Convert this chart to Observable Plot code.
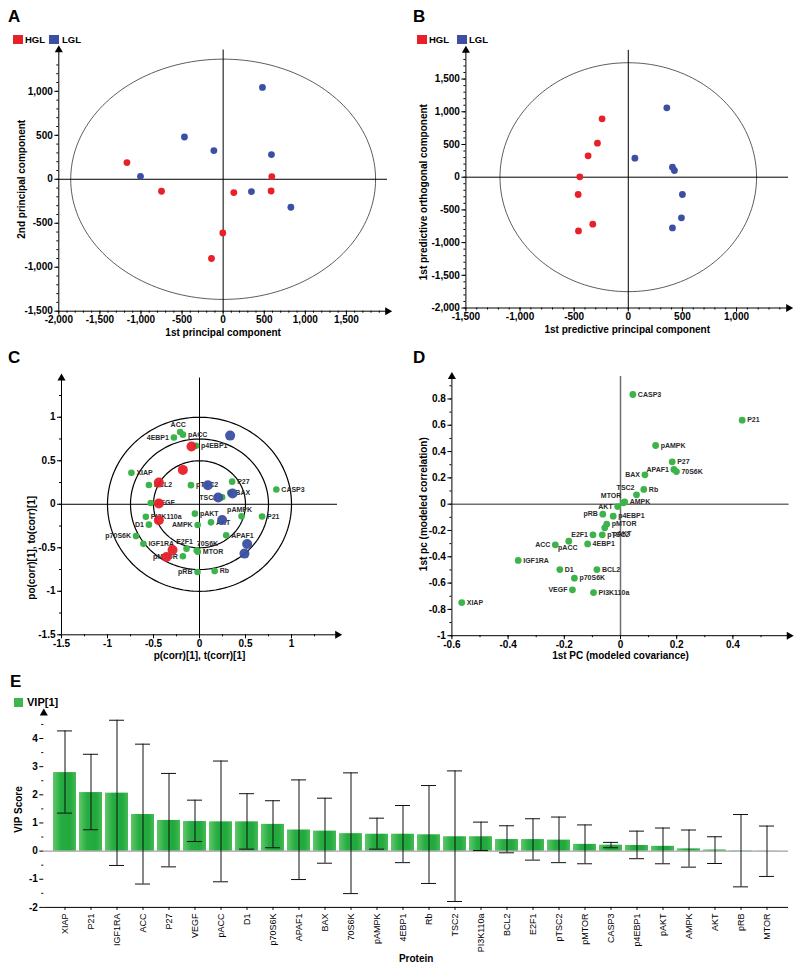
<!DOCTYPE html>
<html><head><meta charset="utf-8">
<script src="https://cdn.jsdelivr.net/npm/d3@7"></script>
<script src="https://cdn.jsdelivr.net/npm/@observablehq/plot@0.6"></script>
<style>
html,body{margin:0;padding:0;background:#fff;}
#root{position:relative;width:800px;height:971px;overflow:hidden;font-family:"Liberation Sans",Arial,Helvetica,sans-serif;color:#000;}
.t{position:absolute;white-space:nowrap;line-height:1;font-weight:bold;}
.sw{position:absolute;}
</style></head>
<body><div id="root"></div>
<script>
// ---------------- DATA ----------------
// Panel A: PCA scores
const pcaHGL_t1 = [-1171, -750, 130, 592, 584, -4, -142];
const pcaHGL_t2 = [190, -136, -151, 31, -133, -610, -901];
const pcaLGL_t1 = [478, -471, -113, 588, -1006, 344, 824];
const pcaLGL_t2 = [1045, 481, 326, 281, 34, -140, -318];
const ellipseA = [1855, 1366];              // Hotelling T2 radii (x, y)
const domainA_x = [-2000, 2000];
const domainA_y = [-1500, 1470];
const ticksA_x = [-2000, -1500, -1000, -500, 0, 500, 1000, 1500];
const ticksA_y = [-1500, -1000, -500, 0, 500, 1000];

// Panel B: OPLS-DA scores
const oplsHGL_tp = [-242, -285, -371, -448, -463, -328, -460];
const oplsHGL_to = [893, 520, 327, 5, -265, -719, -821];
const oplsLGL_tp = [356, 61, 408, 426, 500, 491, 408];
const oplsLGL_to = [1061, 291, 153, 102, -265, -622, -776];
const ellipseB = [1185, 1750];
const domainB_x = [-1500, 1480];
const domainB_y = [-2000, 1940];
const ticksB_x = [-1500, -1000, -500, 0, 500, 1000];
const ticksB_y = [-2000, -1500, -1000, -500, 0, 500, 1000, 1500];

// Proteins (VIP order)
const proteins = ["XIAP","P21","IGF1RA","ACC","P27","VEGF","pACC","D1","p70S6K","APAF1","BAX","70S6K","pAMPK","4EBP1","Rb","TSC2","PI3K110a","BCL2","E2F1","pTSC2","pMTOR","CASP3","p4EBP1","pAKT","AMPK","AKT","pRB","MTOR"];

// Panel C: correlation-scaled loadings + scores
const pcorrC  = [-0.74, 0.68, -0.61, -0.21, 0.355, -0.53, -0.18, -0.55, -0.69, 0.29, 0.335, -0.03, 0.457, -0.278, 0.165, 0.246, -0.583, -0.55, -0.141, -0.093, -0.181, 0.835, -0.038, -0.05, -0.02, 0.125, -0.022, -0.018];
const pocorrC = [0.362, -0.141, -0.455, 0.83, 0.26, 0.015, 0.80, -0.234, -0.366, -0.357, 0.132, -0.53, -0.139, 0.768, -0.768, 0.08, -0.144, 0.222, -0.51, 0.22, -0.598, 0.17, 0.673, -0.108, -0.238, -0.208, -0.778, -0.545];
const tcorrHGL  = [-0.087, -0.181, -0.442, -0.442, -0.442, -0.293, -0.359];
const tocorrHGL = [0.663, 0.395, 0.249, 0.008, -0.184, -0.525, -0.605];
const tcorrLGL  = [0.333, 0.091, 0.203, 0.359, 0.246, 0.518, 0.489];
const tocorrLGL = [0.789, 0.218, 0.077, 0.123, -0.18, -0.456, -0.567];
const circlesC = [1, 0.75, 0.5];
const domainC_x = [-1.5, 1.5];
const domainC_y = [-1.5, 1.45];
const ticksC = [-1.5, -1, -0.5, 0, 0.5, 1];

// Panel D: S-plot
const covD  = [-0.565, 0.433, -0.364, -0.232, 0.184, -0.171, -0.184, -0.216, -0.164, 0.19, 0.087, 0.199, 0.125, -0.117, 0.083, 0.057, -0.096, -0.084, -0.098, -0.065, -0.049, 0.044, -0.026, -0.056, 0.015, -0.010, -0.063, 0.010];
const corrD = [-0.748, 0.639, -0.428, -0.309, 0.322, -0.651, -0.281, -0.497, -0.563, 0.264, 0.223, 0.248, 0.446, -0.302, 0.112, 0.071, -0.672, -0.497, -0.233, -0.233, -0.152, 0.834, -0.091, -0.18, 0.017, -0.018, -0.076, 0.010];
const domainD_x = [-0.6, 0.6];
const domainD_y = [-1, 0.97];
const ticksD_x = [-0.6, -0.4, -0.2, 0, 0.2, 0.4];
const ticksD_y = [-1, -0.8, -0.6, -0.4, -0.2, 0, 0.2, 0.4, 0.6, 0.8];

// Panel E: VIP scores with confidence intervals
const vipE   = [2.79, 2.08, 2.06, 1.30, 1.09, 1.05, 1.04, 1.04, 0.95, 0.75, 0.71, 0.62, 0.60, 0.60, 0.58, 0.51, 0.51, 0.41, 0.41, 0.39, 0.24, 0.21, 0.20, 0.17, 0.08, 0.04, 0.01, 0.005];
const vipHiE = [4.27, 3.44, 4.65, 3.80, 2.76, 1.81, 3.20, 2.04, 1.79, 2.53, 1.88, 2.78, 1.17, 1.62, 2.33, 2.85, 1.03, 0.90, 1.15, 1.21, 0.93, 0.31, 0.71, 0.82, 0.75, 0.51, 1.30, 0.89];
const vipLoE = [1.35, 0.76, -0.51, -1.17, -0.56, 0.34, -1.09, 0.07, 0.12, -1.01, -0.43, -1.51, 0.07, -0.41, -1.15, -1.79, 0.02, -0.06, -0.32, -0.41, -0.45, 0.12, -0.27, -0.45, -0.57, -0.44, -1.27, -0.90];
const domainE_y = [-2, 4.9];
const ticksE_y = [-2, -1, 0, 1, 2, 3, 4];
const minorE_y = [-1.5, -0.5, 0.5, 1.5, 2.5, 3.5, 4.5];

// ---------------- STYLE ----------------
const FONT = '"Liberation Sans", Arial, Helvetica, sans-serif';
const RED = "#e8202a", BLUE = "#3b4fa3", GREEN = "#3cb44b";
const labelSideC = {XIAP:"r",P21:"r",IGF1RA:"r",ACC:"t",P27:"r",VEGF:"r",pACC:"r",D1:"l",p70S6K:"l",APAF1:"r",BAX:"r","70S6K":"tr",pAMPK:"t","4EBP1":"l",Rb:"r",TSC2:"l",PI3K110a:"r",BCL2:"r",E2F1:"t",pTSC2:"r",pMTOR:"l",CASP3:"r",p4EBP1:"r",pAKT:"r",AMPK:"l",AKT:"r",pRB:"l",MTOR:"r"};
const labelSideD = {XIAP:"r",P21:"r",IGF1RA:"r",ACC:"l",P27:"r",VEGF:"l",pACC:"b",D1:"r",p70S6K:"r",APAF1:"l",BAX:"l","70S6K":"r",pAMPK:"r","4EBP1":"r",Rb:"r",TSC2:"tl",PI3K110a:"r",BCL2:"r",E2F1:"l",pTSC2:"r",pMTOR:"r",CASP3:"r",p4EBP1:"r",pAKT:"rd",AMPK:"r",AKT:"l",pRB:"l",MTOR:"tl"};
const LABEL_OFFSETS = {
  r:  {anchor:"start",  dx: 5,  dy: 0},
  l:  {anchor:"end",    dx: -5, dy: 0},
  t:  {anchor:"middle", dx: -2, dy: -7},
  b:  {anchor:"middle", dx: -1, dy: 7},
  tr: {anchor:"start",  dx: 0,  dy: -7},
  tl: {anchor:"end",    dx: -2, dy: -7},
  rd: {anchor:"start",  dx: 8,  dy: 6}
};

// ---------------- HELPERS ----------------
const root = document.getElementById("root");
const fmtComma = d => d.toLocaleString("en-US");
const fmtPlain = d => String(d);
const noText = () => "";
function mount(el, left, top) {
  el.style.position = "absolute"; el.style.left = left + "px"; el.style.top = top + "px";
  root.appendChild(el);
}
function addText(txt, left, baseline, size) {
  const d = document.createElement("div");
  d.className = "t"; d.textContent = txt;
  d.style.left = left + "px"; d.style.top = (baseline - 0.8465 * size) + "px"; d.style.fontSize = size + "px";
  root.appendChild(d);
}
function addSwatch(color, left, top, w, h) {
  const d = document.createElement("div");
  d.className = "sw"; d.style.left = left + "px"; d.style.top = top + "px";
  d.style.width = w + "px"; d.style.height = h + "px"; d.style.background = color;
  root.appendChild(d);
}
function ellipse(rx, ry) {
  return d3.range(0, 361, 2).map(a => ({x: rx * Math.cos(a * Math.PI / 180), y: ry * Math.sin(a * Math.PI / 180)}));
}
const zip2 = (xs, ys) => xs.map((x, i) => ({x, y: ys[i]}));
function frameAxes(dx, dy, opts) {
  const o = Object.assign({tickSize: 4, tickPadding: 1, minorSize: 2}, opts);
  return [
    Plot.ruleX([dx[0]], {stroke: "#000", strokeWidth: 1}),
    Plot.ruleY([dy[0]], {stroke: "#000", strokeWidth: 1}),
    Plot.axisX({ticks: o.minorX, tickSize: o.minorSize, tickFormat: noText, label: null}),
    Plot.axisY({ticks: o.minorY, tickSize: o.minorSize, tickFormat: noText, label: null}),
    Plot.axisX({ticks: o.ticksX, tickSize: o.tickSize, tickPadding: o.tickPadding, tickFormat: o.fmt, label: null}),
    Plot.axisY({ticks: o.ticksY, tickSize: o.tickSize, tickPadding: o.tickPadding + 1, tickFormat: o.fmt, label: null}),
    Plot.dot([{x: dx[1], y: dy[0]}], {x: "x", y: "y", symbol: "triangle", rotate: 90, r: 3, fill: "#000"}),
    Plot.dot([{x: dx[0], y: dy[1]}], {x: "x", y: "y", symbol: "triangle", r: 3, fill: "#000"})
  ];
}
function axisTitles(xTitle, xdy, yTitle, yAt, ydx) {
  return [
    Plot.text([xTitle], {frameAnchor: "bottom", dy: xdy, textAnchor: "middle", lineAnchor: "middle", fontSize: 10, fontWeight: "bold"}),
    Plot.text([yTitle], {y: () => yAt, frameAnchor: "left", dx: ydx, rotate: -90, textAnchor: "middle", lineAnchor: "middle", fontSize: 10, fontWeight: "bold"})
  ];
}
function labelMarks(tbl, sides, xk, yk) {
  return Object.entries(LABEL_OFFSETS).map(([k, o]) =>
    Plot.text(tbl.filter(d => sides[d.name] === k), {
      x: xk, y: yk, text: "name", textAnchor: o.anchor, dx: o.dx, dy: o.dy,
      fontSize: 7, fontWeight: "bold", fill: "#2a2a2a"
    }));
}
const baseStyle = {fontFamily: FONT, fontSize: "10px", fontWeight: "bold", background: "transparent", color: "#000", overflow: "visible"};

// ---------------- PANEL A ----------------
const plotA = Plot.plot({
  width: 400, height: 345, marginLeft: 58.3, marginRight: 13, marginTop: 49.5, marginBottom: 34.3,
  style: baseStyle,
  x: {domain: domainA_x, axis: null},
  y: {domain: domainA_y, axis: null},
  marks: [
    Plot.line(ellipse(ellipseA[0], ellipseA[1]), {x: "x", y: "y", stroke: "#333", strokeWidth: 0.8, curve: "linear"}),
    Plot.ruleX([0], {stroke: "#000"}),
    Plot.ruleY([0], {stroke: "#000"}),
    ...frameAxes(domainA_x, domainA_y, {ticksX: ticksA_x, ticksY: ticksA_y, fmt: fmtComma,
      minorX: d3.range(-2000, 2000, 100), minorY: d3.range(-1500, 1400, 100)}),
    Plot.dot(zip2(pcaHGL_t1, pcaHGL_t2), {x: "x", y: "y", r: 3.4, fill: RED}),
    Plot.dot(zip2(pcaLGL_t1, pcaLGL_t2), {x: "x", y: "y", r: 3.4, fill: BLUE}),
    ...axisTitles("1st principal component", 22, "2nd principal component", 0, -37.5)
  ]
});
mount(plotA, 0, 0);

// ---------------- PANEL B ----------------
const plotB = Plot.plot({
  width: 400, height: 345, marginLeft: 65.4, marginRight: 12, marginTop: 49.8, marginBottom: 37.5,
  style: baseStyle,
  x: {domain: domainB_x, axis: null},
  y: {domain: domainB_y, axis: null},
  marks: [
    Plot.line(ellipse(ellipseB[0], ellipseB[1]), {x: "x", y: "y", stroke: "#333", strokeWidth: 0.8}),
    Plot.ruleX([0], {stroke: "#000"}),
    Plot.ruleY([0], {stroke: "#000"}),
    ...frameAxes(domainB_x, domainB_y, {ticksX: ticksB_x, ticksY: ticksB_y, fmt: fmtComma,
      minorX: d3.range(-1500, 1450, 100), minorY: d3.range(-2000, 1900, 100)}),
    Plot.dot(zip2(oplsHGL_tp, oplsHGL_to), {x: "x", y: "y", r: 3.4, fill: RED}),
    Plot.dot(zip2(oplsLGL_tp, oplsLGL_to), {x: "x", y: "y", r: 3.4, fill: BLUE}),
    ...axisTitles("1st predictive principal component", 21.8, "1st predictive orthogonal component", -229, -42.4)
  ]
});
mount(plotB, 400, 0);

// ---------------- PANEL C ----------------
const tblC = proteins.map((name, i) => ({name, x: pcorrC[i], y: pocorrC[i]}));
const plotC = Plot.plot({
  width: 400, height: 325, marginLeft: 61, marginRight: 63, marginTop: 32.6, marginBottom: 35.7,
  style: baseStyle,
  x: {domain: domainC_x, axis: null},
  y: {domain: domainC_y, axis: null},
  marks: [
    ...circlesC.map(r => Plot.line(ellipse(r, r), {x: "x", y: "y", stroke: "#000", strokeWidth: 1.2})),
    Plot.ruleX([0], {stroke: "#000"}),
    Plot.ruleY([0], {stroke: "#000"}),
    ...frameAxes(domainC_x, domainC_y, {ticksX: ticksC, ticksY: ticksC, fmt: fmtPlain,
      minorX: d3.range(-6, 6).map(k => k / 4), minorY: d3.range(-6, 6).map(k => k / 4)}),
    Plot.dot(tblC, {x: "x", y: "y", r: 3.3, fill: GREEN}),
    ...labelMarks(tblC, labelSideC, "x", "y"),
    Plot.dot(zip2(tcorrHGL, tocorrHGL), {x: "x", y: "y", r: 5, fill: RED, fillOpacity: 0.95}),
    Plot.dot(zip2(tcorrLGL, tocorrLGL), {x: "x", y: "y", r: 5, fill: BLUE, fillOpacity: 0.95}),
    ...axisTitles("p(corr)[1], t(corr)[1]", 20.7, "po(corr)[1], to(corr)[1]", -0.5, -29.5)
  ]
});
mount(plotC, 0, 345);

// ---------------- PANEL D ----------------
const tblD = proteins.map((name, i) => ({name, x: covD[i], y: corrD[i]}));
const plotD = Plot.plot({
  width: 400, height: 325, marginLeft: 51.4, marginRight: 11.4, marginTop: 31.1, marginBottom: 34.8,
  style: baseStyle,
  x: {domain: domainD_x, axis: null},
  y: {domain: domainD_y, axis: null},
  marks: [
    Plot.ruleX([0], {stroke: "#6f6f6f", strokeWidth: 1.5}),
    Plot.ruleY([0], {stroke: "#6f6f6f", strokeWidth: 1.5}),
    ...frameAxes(domainD_x, domainD_y, {ticksX: ticksD_x, ticksY: ticksD_y, fmt: fmtPlain,
      minorX: d3.range(-6, 6).map(k => k / 10), minorY: d3.range(-10, 10).map(k => k / 10)}),
    Plot.dot(tblD, {x: "x", y: "y", r: 3.4, fill: GREEN}),
    ...labelMarks(tblD, labelSideD, "x", "y"),
    ...axisTitles("1st PC (modeled covariance)", 20.5, "1st pc (modeled correlation)", 0, -28.4)
  ]
});
mount(plotD, 400, 345);

// ---------------- PANEL E ----------------
const tblE = proteins.map((name, i) => ({name, vip: vipE[i], hi: vipHiE[i], lo: vipLoE[i]}));
const gradDefs = () => {
  const defs = d3.create("svg:defs");
  const g = defs.append("linearGradient").attr("id", "vipGrad").attr("x1", 0).attr("x2", 1).attr("y1", 0).attr("y2", 0);
  [[0, "#62c76a"], [0.35, "#25ad41"], [0.75, "#22a93d"], [1, "#45bb55"]].forEach(([o, c]) => g.append("stop").attr("offset", o).attr("stop-color", c));
  return defs.node();
};
const plotE = Plot.plot({
  width: 800, height: 301, marginLeft: 43.3, marginRight: 12, marginTop: 42.7, marginBottom: 64.1,
  style: baseStyle,
  x: {domain: proteins, paddingInner: 0.12, paddingOuter: 0.06, axis: null},
  y: {domain: domainE_y, axis: null},
  marks: [
    gradDefs,
    Plot.barY(tblE, {x: "name", y: "vip", fill: "url(#vipGrad)"}),
    Plot.ruleY([0], {stroke: "#8a8a8a", strokeWidth: 1}),
    Plot.ruleX(tblE, {x: "name", y1: "lo", y2: "hi", stroke: "#111", strokeWidth: 1}),
    Plot.tickY(tblE, {x: "name", y: "hi", inset: 4, stroke: "#111", strokeWidth: 1}),
    Plot.tickY(tblE, {x: "name", y: "lo", inset: 4, stroke: "#111", strokeWidth: 1}),
    Plot.ruleY([domainE_y[0]], {stroke: "#000"}),
    Plot.axisY({ticks: minorE_y, tickSize: 2, tickFormat: noText, label: null}),
    Plot.axisY({ticks: ticksE_y, tickSize: 4, tickPadding: 2, tickFormat: fmtPlain, label: null, line: true}),
    Plot.axisX({tickSize: 3, tickPadding: 3, tickRotate: -90, fontSize: 9, fontWeight: "normal", label: null}),
    Plot.dot([domainE_y[1]], {y: d => d, frameAnchor: "left", symbol: "triangle", r: 3, fill: "#000"}),
    Plot.text(["Protein"], {frameAnchor: "bottom", dy: 51.5, textAnchor: "middle", lineAnchor: "middle", fontSize: 10, fontWeight: "bold"}),
    Plot.text(["VIP Score"], {y: () => 1.48, frameAnchor: "left", dx: -24.6, rotate: -90, textAnchor: "middle", lineAnchor: "middle", fontSize: 10, fontWeight: "bold"})
  ]
});
mount(plotE, 0, 670);

// ---------------- LETTERS & LEGENDS ----------------
addText("A", 8, 22, 17);
addText("B", 413, 22, 17);
addText("C", 8, 363, 17);
addText("D", 413, 363, 17);
addText("E", 10, 687, 17);

addSwatch(RED, 12.7, 35, 10, 9);  addText("HGL", 25, 43.5, 9.5);
addSwatch(BLUE, 49.3, 35, 10, 9); addText("LGL", 62, 43.5, 9.5);
addSwatch(RED, 416.7, 35, 10, 9); addText("HGL", 429, 43.5, 9.5);
addSwatch(BLUE, 456.7, 35, 10, 9); addText("LGL", 469, 43.5, 9.5);
addSwatch("#3fb54e", 14, 698, 8.5, 9); addText("VIP[1]", 27, 706.5, 11);
</script>
</body></html>
